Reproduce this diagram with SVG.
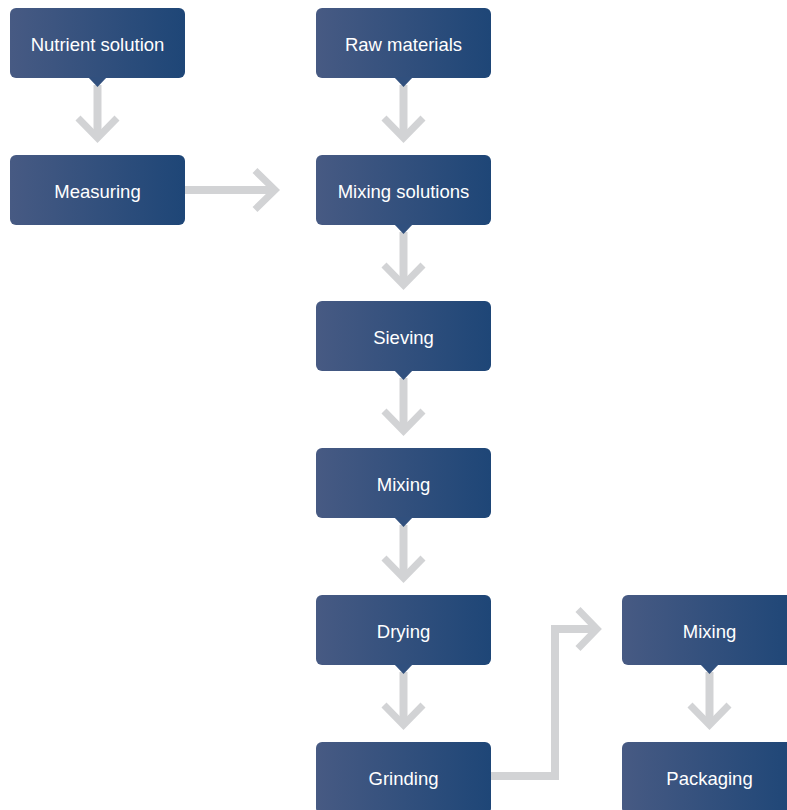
<svg xmlns="http://www.w3.org/2000/svg" width="787" height="810" viewBox="0 0 787 810">
<defs>
<linearGradient id="g" x1="0" y1="0" x2="1" y2="0">
<stop offset="0" stop-color="#475a83"/>
<stop offset="1" stop-color="#1e4677"/>
</linearGradient>
</defs>
<style>
.box{fill:url(#g)}
.tip{fill:#31507e}
.lbl{fill:#ffffff;font-family:"Liberation Sans",Arial,sans-serif;font-size:18.5px;text-anchor:middle}
.stem{fill:none;stroke:#d2d3d5;stroke-width:8}
.head{fill:none;stroke:#d2d3d5;stroke-width:7;stroke-linejoin:miter;stroke-miterlimit:10}
</style>
<g id="connectors">
<path class="stem" d="M97.5 85V136"/><path class="head" d="M78 118L97.5 138L117 118"/>
<path class="stem" d="M185 190H274"/><path class="head" d="M255 170.5L275 190L255 209.5"/>
<path class="stem" d="M403.5 85V136"/><path class="head" d="M384 118L403.5 138L423 118"/>
<path class="stem" d="M403.5 232V283"/><path class="head" d="M384 265L403.5 285L423 265"/>
<path class="stem" d="M403.5 378V430"/><path class="head" d="M384 411L403.5 431L423 411"/>
<path class="stem" d="M403.5 525V577"/><path class="head" d="M384 558L403.5 578L423 558"/>
<path class="stem" d="M403.5 672V723"/><path class="head" d="M384 705L403.5 725L423 705"/>
<path class="stem" d="M491 776H555V629H596"/><path class="head" d="M578 609.5L597 629L578 648.5"/>
<path class="stem" d="M709.5 672V723"/><path class="head" d="M690 705L709.5 725L729 705"/>
</g>
<g id="n-nutrient"><rect class="box" x="10" y="8" width="175" height="70" rx="6"/><path class="tip" d="M88 77H107L97.5 87Z"/><text class="lbl" x="97.5" y="51">Nutrient solution</text></g>
<g id="n-measuring"><rect class="box" x="10" y="155" width="175" height="70" rx="6"/><text class="lbl" x="97.5" y="198">Measuring</text></g>
<g id="n-raw"><rect class="box" x="316" y="8" width="175" height="70" rx="6"/><path class="tip" d="M394 77H413L403.5 87Z"/><text class="lbl" x="403.5" y="51">Raw materials</text></g>
<g id="n-mixsol"><rect class="box" x="316" y="155" width="175" height="70" rx="6"/><path class="tip" d="M394 224H413L403.5 234Z"/><text class="lbl" x="403.5" y="198">Mixing solutions</text></g>
<g id="n-sieving"><rect class="box" x="316" y="301" width="175" height="70" rx="6"/><path class="tip" d="M394 370H413L403.5 380Z"/><text class="lbl" x="403.5" y="344">Sieving</text></g>
<g id="n-mixing1"><rect class="box" x="316" y="448" width="175" height="70" rx="6"/><path class="tip" d="M394 517H413L403.5 527Z"/><text class="lbl" x="403.5" y="491">Mixing</text></g>
<g id="n-drying"><rect class="box" x="316" y="595" width="175" height="70" rx="6"/><path class="tip" d="M394 664H413L403.5 674Z"/><text class="lbl" x="403.5" y="638">Drying</text></g>
<g id="n-grinding"><rect class="box" x="316" y="742" width="175" height="72" rx="6"/><text class="lbl" x="403.5" y="785">Grinding</text></g>
<g id="n-mixing2"><rect class="box" x="622" y="595" width="175" height="70" rx="6"/><path class="tip" d="M700 664H719L709.5 674Z"/><text class="lbl" x="709.5" y="638">Mixing</text></g>
<g id="n-packaging"><rect class="box" x="622" y="742" width="175" height="72" rx="6"/><text class="lbl" x="709.5" y="785">Packaging</text></g>
</svg>
